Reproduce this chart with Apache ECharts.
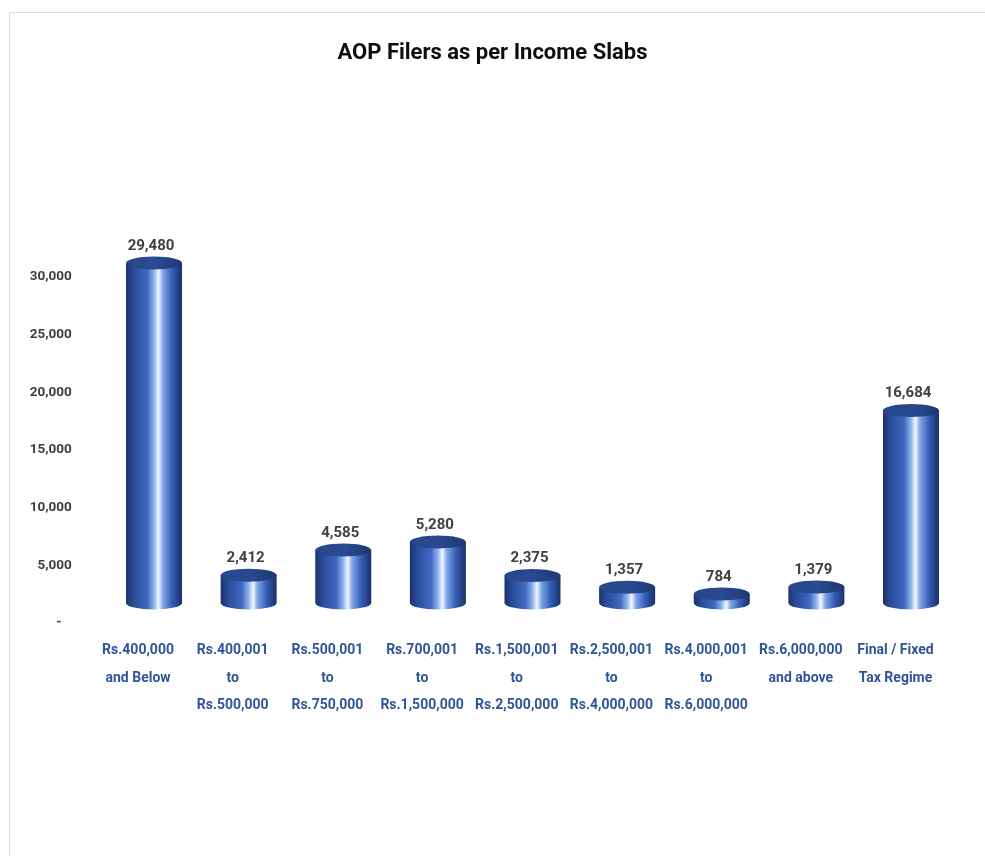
<!DOCTYPE html>
<html>
<head>
<meta charset="utf-8">
<script src="https://cdn.jsdelivr.net/npm/echarts@6/dist/echarts.min.js"></script>
<style>
html,body{margin:0;padding:0;background:#fff;}
#chart{width:985px;height:856px;}
</style>
</head>
<body>
<div id="chart"></div>
<script>
const titleText = 'AOP Filers as per Income Slabs';
const categories = [
  'Rs.400,000\nand Below',
  'Rs.400,001\nto\nRs.500,000',
  'Rs.500,001\nto\nRs.750,000',
  'Rs.700,001\nto\nRs.1,500,000',
  'Rs.1,500,001\nto\nRs.2,500,000',
  'Rs.2,500,001\nto\nRs.4,000,000',
  'Rs.4,000,001\nto\nRs.6,000,000',
  'Rs.6,000,000\nand above',
  'Final / Fixed\nTax Regime'
];
const values = [29480, 2412, 4585, 5280, 2375, 1357, 784, 1379, 16684];
const yMin = 0, yMax = 30000, yInterval = 5000;

const FONT = 'Roboto, sans-serif';
const fmt = v => v.toLocaleString('en-US');

const chart = echarts.init(document.getElementById('chart'));

function renderCylinder(params, api) {
  const idx = api.value(0);
  const val = api.value(1);
  const top = api.coord([idx, val]);
  const bot = api.coord([idx, 0]);
  const w = 56, rx = w / 2, ry = 6.5;
  const cx = top[0], yT = top[1], yB = bot[1];
  const x0 = cx - rx, x1 = cx + rx;
  const bodyGrad = new echarts.graphic.LinearGradient(0, 0, 1, 0, [
    {offset: 0, color: '#1c326b'},
    {offset: 0.14, color: '#2a4d9b'},
    {offset: 0.38, color: '#4169c2'},
    {offset: 0.5, color: '#8fb4ee'},
    {offset: 0.58, color: '#f2f8ff'},
    {offset: 0.66, color: '#7ea5e8'},
    {offset: 0.82, color: '#355eb5'},
    {offset: 1, color: '#1a3068'}
  ]);
  const topGrad = new echarts.graphic.LinearGradient(0, 0, 1, 0, [
    {offset: 0, color: '#27468a'},
    {offset: 0.5, color: '#294a92'},
    {offset: 1, color: '#1e3874'}
  ]);
  const bodyPath = 'M' + x0 + ' ' + yT + ' L' + x0 + ' ' + yB +
    ' A' + rx + ' ' + ry + ' 0 0 0 ' + x1 + ' ' + yB +
    ' L' + x1 + ' ' + yT + ' Z';
  const topPath = 'M' + x0 + ' ' + yT +
    ' A' + rx + ' ' + ry + ' 0 1 0 ' + x1 + ' ' + yT +
    ' A' + rx + ' ' + ry + ' 0 1 0 ' + x0 + ' ' + yT + ' Z';
  return {
    type: 'group',
    children: [
      {type: 'path', shape: {pathData: bodyPath}, style: {fill: bodyGrad}},
      {type: 'path', shape: {pathData: topPath}, style: {fill: topGrad}},
      {type: 'text', style: {
        text: fmt(val), x: cx - 3, y: yT - ry - 3,
        align: 'center', verticalAlign: 'bottom',
        fill: '#404040', font: 'bold 15px ' + FONT
      }}
    ]
  };
}

chart.setOption({
  animation: false,
  backgroundColor: '#ffffff',
  title: {
    text: titleText, left: 'center', top: 37,
    textStyle: {fontFamily: FONT, fontWeight: 'bold', fontSize: 22, color: '#0d0d0d'}
  },
  graphic: [{
    type: 'rect', silent: true, z: -10,
    shape: {x: 9.5, y: 12.5, width: 1100, height: 900},
    style: {fill: 'none', stroke: '#d9d9d9', lineWidth: 1}
  }],
  grid: [
    {left: 90.7, right: 42.2, top: 277, bottom: 233},
    {left: 106.7, right: 26.7, top: 257, bottom: 253}
  ],
  xAxis: [
    {
      type: 'category', gridIndex: 0, data: categories,
      axisLine: {show: false}, axisTick: {show: false},
      axisLabel: {
        interval: 0, margin: 14, lineHeight: 27.5,
        color: '#2F5597', fontFamily: FONT, fontWeight: 'bold', fontSize: 14
      }
    },
    {
      type: 'category', gridIndex: 1, data: categories, show: false
    }
  ],
  yAxis: [
    {
      type: 'value', gridIndex: 0, min: yMin, max: yMax, interval: yInterval,
      axisLine: {show: false}, axisTick: {show: false}, splitLine: {show: false},
      axisLabel: {
        margin: 19, color: '#404040', fontFamily: FONT, fontWeight: 'bold', fontSize: 13.5,
        formatter: v => v === 0 ? '-   ' : fmt(v)
      }
    },
    {
      type: 'value', gridIndex: 1, min: yMin, max: yMax, interval: yInterval, show: false
    }
  ],
  series: [{
    type: 'custom',
    xAxisIndex: 1, yAxisIndex: 1,
    renderItem: renderCylinder,
    data: values.map((v, i) => [i, v])
  }]
});
</script>
</body>
</html>
